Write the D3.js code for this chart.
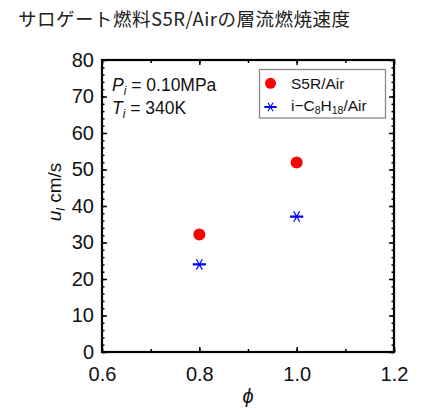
<!DOCTYPE html>
<html><head><meta charset="utf-8">
<script src="https://cdn.jsdelivr.net/npm/d3@7"></script>
<style>
body{margin:0;background:#fff;}
svg text{font-family:"Liberation Sans",Arimo,Arial,sans-serif;}
</style></head>
<body><svg id="c" width="424" height="412"></svg>
<script>
const phi = [0.8, 1.0];
const s5rAir = [32.2, 51.9];
const isoOctaneAir = [24.0, 37.1];
const xTicks = [0.6, 0.8, 1.0, 1.2];
const yTicks = [0, 10, 20, 30, 40, 50, 60, 70, 80];
const titleText = "サロゲート燃料S5R/Airの層流燃焼速度";

const svg = d3.select("#c");
const L = 102, T = 60, W = 292, H = 292;
const x = d3.scaleLinear().domain([0.6, 1.2]).range([L, L + W]);
const y = d3.scaleLinear().domain([0, 80]).range([T + H, T]);

svg.append("text").attr("x", 18).attr("y", 26)
  .style("font-family", "'Noto Sans CJK JP',sans-serif").style("font-size", "18.5px").style("letter-spacing", "0.5px").attr("fill", "#222")
  .text(titleText);

function styleAxis(g){ g.attr("font-family", null); g.selectAll(".domain").remove(); g.selectAll("line").attr("stroke","#000").attr("stroke-width",1.5); g.selectAll("text").style("font-size","20px").attr("fill","#111"); }
const xMinor = d3.range(0.6, 1.2001, 0.1).map(v => +v.toFixed(2));
const yMinor = d3.range(0, 80.01, 2);

// minor ticks
svg.append("g").attr("transform", `translate(0,${T+H})`).call(d3.axisBottom(x).tickValues(xMinor).tickSize(-3).tickFormat("")).call(styleAxis);
svg.append("g").attr("transform", `translate(0,${T})`).call(d3.axisTop(x).tickValues(xMinor).tickSize(-3).tickFormat("")).call(styleAxis);
svg.append("g").attr("transform", `translate(${L},0)`).call(d3.axisLeft(y).tickValues(yMinor).tickSize(-2.5).tickFormat("")).call(styleAxis);
svg.append("g").attr("transform", `translate(${L+W},0)`).call(d3.axisRight(y).tickValues(yMinor).tickSize(-2.5).tickFormat("")).call(styleAxis);
// major ticks
svg.append("g").attr("transform", `translate(0,${T+H})`).call(d3.axisBottom(x).tickValues(xTicks).tickSize(-5).tickPadding(15).tickFormat(d3.format(".1f"))).call(styleAxis);
svg.append("g").attr("transform", `translate(0,${T})`).call(d3.axisTop(x).tickValues(xTicks).tickSize(-5).tickFormat("")).call(styleAxis);
svg.append("g").attr("transform", `translate(${L},0)`).call(d3.axisLeft(y).tickValues(yTicks).tickSize(-5).tickPadding(8).tickFormat(d3.format("d"))).call(styleAxis);
svg.append("g").attr("transform", `translate(${L+W},0)`).call(d3.axisRight(y).tickValues(yTicks).tickSize(-5).tickFormat("")).call(styleAxis);

svg.append("rect").attr("x", L).attr("y", T).attr("width", W).attr("height", H)
  .attr("fill", "none").attr("stroke", "#000").attr("stroke-width", 2.2);

// axis titles
const yt = svg.append("text").attr("transform", `translate(61,192) rotate(-90)`).attr("text-anchor", "middle").style("font-size", "19px").attr("fill","#111");
yt.append("tspan").style("font-style", "italic").text("u");
yt.append("tspan").style("font-style", "italic").style("font-size", "12px").attr("dy", 4).text("l");
yt.append("tspan").attr("dy", -4).text("  cm/s");
svg.append("text").attr("x", L + W/2).attr("y", 403).attr("text-anchor", "middle").style("font-size", "20px").style("font-style", "italic").attr("fill","#111").text("ϕ");

// annotation
function sub(t, main, s, rest){
  t.append("tspan").style("font-style","italic").text(main);
  t.append("tspan").style("font-style","italic").style("font-size","12px").attr("dy",4).text(s);
  t.append("tspan").attr("dy",-4).text(rest);
}
sub(svg.append("text").attr("x",112).attr("y",91).style("font-size","17.5px").attr("fill","#111"), "P", "i", " = 0.10MPa");
sub(svg.append("text").attr("x",112).attr("y",114).style("font-size","17.5px").attr("fill","#111"), "T", "i", " = 340K");

// asterisk path
function star(cx, cy, hw, r){
  const a = Math.PI/3;
  return `M${cx-hw},${cy}L${cx+hw},${cy}` +
    `M${cx - r*Math.cos(a)},${cy - r*Math.sin(a)}L${cx + r*Math.cos(a)},${cy + r*Math.sin(a)}` +
    `M${cx - r*Math.cos(a)},${cy + r*Math.sin(a)}L${cx + r*Math.cos(a)},${cy - r*Math.sin(a)}`;
}

// data
svg.selectAll("circle.s5r").data(phi).join("circle").attr("class","s5r")
  .attr("cx", d => x(d)).attr("cy", (d,i) => y(s5rAir[i])).attr("r", 6).attr("fill", "#ff0000");
svg.selectAll("path.iso").data(phi).join("path").attr("class","iso")
  .attr("d", (d,i) => star(x(d), y(isoOctaneAir[i]), 6.5, 6)).attr("stroke", "#0000ff").attr("stroke-width", 1.2).attr("fill","none");
svg.selectAll("path.isoh").data(phi).join("path").attr("class","isoh")
  .attr("d", (d,i) => `M${x(d)-6.5},${y(isoOctaneAir[i])}L${x(d)+6.5},${y(isoOctaneAir[i])}`).attr("stroke", "#0000ff").attr("stroke-width", 2.2);

// legend
svg.append("rect").attr("x",259.5).attr("y",69.5).attr("width",126).attr("height",48.5).attr("fill","#fff").attr("stroke","#888").attr("stroke-width",1.3);
svg.append("circle").attr("cx",270.5).attr("cy",83.3).attr("r",5.5).attr("fill","#ff0000");
svg.append("text").attr("x",291).attr("y",89).style("font-size","15.5px").attr("fill","#111").text("S5R/Air");
svg.append("path").attr("d", star(270.5,107,6,5)).attr("stroke","#0000ff").attr("stroke-width",1.1).attr("fill","none");
svg.append("path").attr("d", `M264.5,107L276.5,107`).attr("stroke","#0000ff").attr("stroke-width",2);
const lt = svg.append("text").attr("x",291).attr("y",111).style("font-size","15.5px").attr("fill","#111");
lt.append("tspan").text("i−C");
lt.append("tspan").style("font-size","10.5px").attr("dy",3).text("8");
lt.append("tspan").attr("dy",-3).text("H");
lt.append("tspan").style("font-size","10.5px").attr("dy",3).text("18");
lt.append("tspan").attr("dy",-3).text("/Air");
</script></body></html>
